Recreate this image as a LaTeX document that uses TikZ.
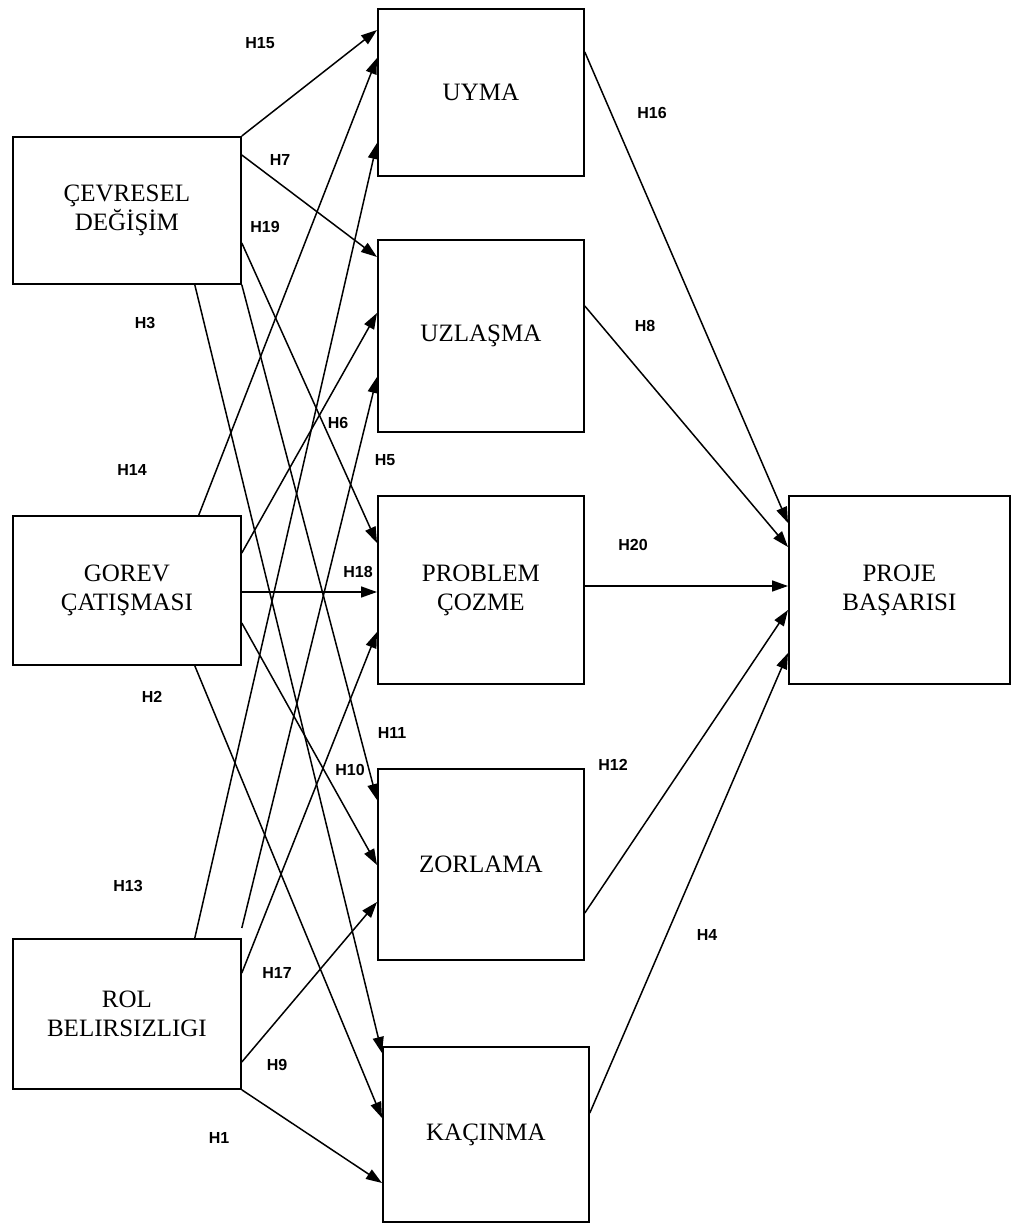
\documentclass[tikz,border=0pt]{standalone}
\usepackage{fontspec}
\setmainfont{Liberation Serif}
\newfontfamily\labelfont{Liberation Sans}
\usetikzlibrary{arrows.meta}
\tikzset{
  vbox/.style={draw=black,line width=1.8pt,align=center,anchor=north west,
               inner sep=0pt,font=\fontsize{25}{29}\selectfont},
  hlab/.style={font=\labelfont\bfseries\fontsize{16}{19}\selectfont},
  arr/.style={-{Triangle[length=16pt,width=11pt]},black,line width=1.5pt},
}
\begin{document}
\begin{tikzpicture}[x=1pt,y=-1pt]
    \useasboundingbox (0,0) rectangle (1011,1223);
    % independent variables
    \node[vbox,minimum width=228pt,minimum height=147pt] (cev) at (12,136) {ÇEVRESEL\\DEĞİŞİM};
    \node[vbox,minimum width=228pt,minimum height=149pt] (gor) at (12,515) {GOREV\\ÇATIŞMASI};
    \node[vbox,minimum width=228pt,minimum height=150pt] (rol) at (12,938) {ROL\\BELIRSIZLIGI};
    % conflict styles
    \node[vbox,minimum width=206pt,minimum height=167pt] (uyma) at (377,8) {UYMA};
    \node[vbox,minimum width=206pt,minimum height=192pt] (uzl) at (377,239) {UZLAŞMA};
    \node[vbox,minimum width=206pt,minimum height=188pt] (prob) at (377,495) {PROBLEM\\ÇOZME};
    \node[vbox,minimum width=206pt,minimum height=191pt] (zor) at (377,768) {ZORLAMA};
    \node[vbox,minimum width=206pt,minimum height=175pt] (kac) at (382,1046) {KAÇINMA};
    % outcome
    \node[vbox,minimum width=221pt,minimum height=188pt] (proje) at (788,495) {PROJE\\BAŞARISI};

    % cevresel degisim
    \draw[arr] (cev.north east) -- ([yshift=-22pt]uyma.north west);
    \draw[arr] ([yshift=-19pt]cev.north east) -- ([yshift=-18pt]uzl.north west);
    \draw[arr] ([yshift=-107pt]cev.north east) -- ([yshift=-48pt]prob.north west);
    \draw[arr] (cev.south east) -- ([yshift=-32pt]zor.north west);
    \draw[arr] ([xshift=-47pt]cev.south east) -- ([yshift=-7pt]kac.north west);
    % gorev catismasi
    \draw[arr] ([xshift=-43pt]gor.north east) -- ([yshift=-50pt]uyma.north west);
    \draw[arr] ([yshift=-38pt]gor.north east) -- ([yshift=-74pt]uzl.north west);
    \draw[arr] ([yshift=-77pt]gor.north east) -- ([yshift=-97pt]prob.north west);
    \draw[arr] ([yshift=-108pt]gor.north east) -- ([yshift=-97pt]zor.north west);
    \draw[arr] ([xshift=-47pt]gor.south east) -- ([yshift=-72pt]kac.north west);
    % rol belirsizligi
    \draw[arr] ([xshift=-47pt]rol.north east) -- ([yshift=-135pt]uyma.north west);
    \draw[arr] ([yshift=10pt]rol.north east) -- ([yshift=-138pt]uzl.north west);
    \draw[arr] ([yshift=-35pt]rol.north east) -- ([yshift=-137pt]prob.north west);
    \draw[arr] ([yshift=-124pt]rol.north east) -- ([yshift=-134pt]zor.north west);
    \draw[arr] (rol.south east) -- ([yshift=-137pt]kac.north west);
    % to proje basarisi
    \draw[arr] ([yshift=-44pt]uyma.north east) -- ([yshift=-28pt]proje.north west);
    \draw[arr] ([yshift=-67pt]uzl.north east) -- ([yshift=-52pt]proje.north west);
    \draw[arr] ([yshift=-91pt]prob.north east) -- ([yshift=-91pt]proje.north west);
    \draw[arr] ([yshift=-145pt]zor.north east) -- ([yshift=-115pt]proje.north west);
    \draw[arr] ([yshift=-67pt]kac.north east) -- ([yshift=-158pt]proje.north west);

    % hypothesis labels
    \node[hlab] (h15) at (260,43) {H15};
    \node[hlab] (h7) at (280,160) {H7};
    \node[hlab] (h19) at (265,227) {H19};
    \node[hlab] (h3) at (145,323) {H3};
    \node[hlab] (h6) at (338,423) {H6};
    \node[hlab] (h5) at (385,460) {H5};
    \node[hlab] (h14) at (132,470) {H14};
    \node[hlab] (h18) at (358,572) {H18};
    \node[hlab] (h2) at (152,697) {H2};
    \node[hlab] (h11) at (392,733) {H11};
    \node[hlab] (h10) at (350,770) {H10};
    \node[hlab] (h13) at (128,886) {H13};
    \node[hlab] (h17) at (277,973) {H17};
    \node[hlab] (h9) at (277,1065) {H9};
    \node[hlab] (h1) at (219,1138) {H1};
    \node[hlab] (h16) at (652,113) {H16};
    \node[hlab] (h8) at (645,326) {H8};
    \node[hlab] (h20) at (633,545) {H20};
    \node[hlab] (h12) at (613,765) {H12};
    \node[hlab] (h4) at (707,935) {H4};
\end{tikzpicture}
\end{document}
